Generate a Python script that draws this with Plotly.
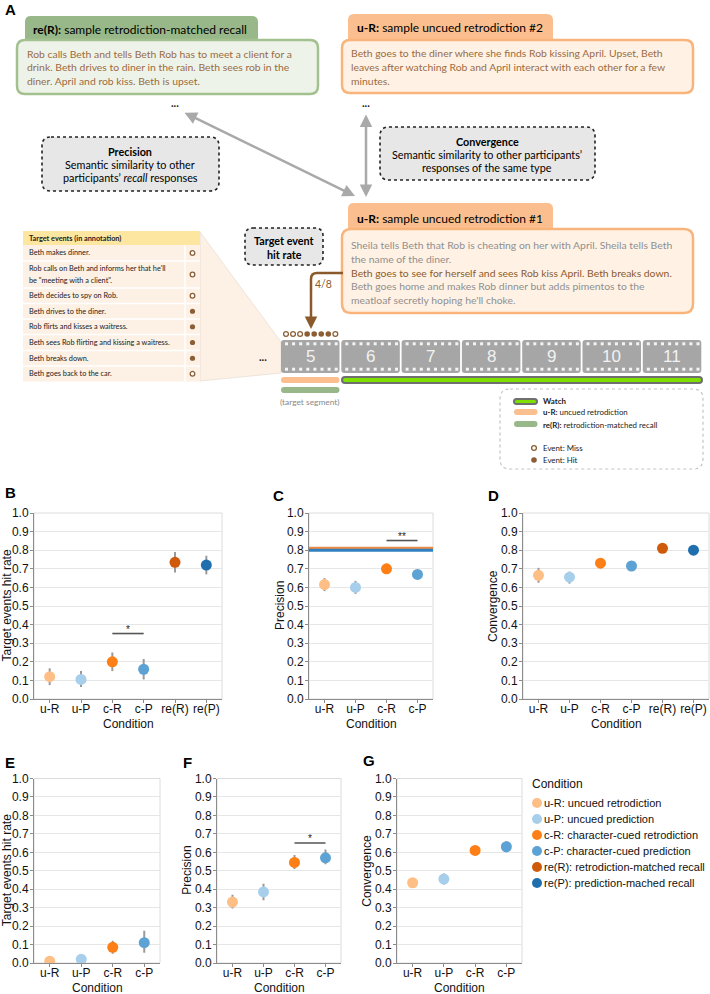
import plotly.graph_objects as go

W, H = 710, 994
FA = "Lato"              # diagram text (Calibri-like)
FC = "Liberation Sans"   # chart text (Helvetica-like)

# ------------------------------------------------------------------ data
conditions_all = ["u-R", "u-P", "c-R", "c-P", "re(R)", "re(P)"]
conditions_4 = ["u-R", "u-P", "c-R", "c-P"]
condition_labels = [
    "u-R: uncued retrodiction",
    "u-P: uncued prediction",
    "c-R: character-cued retrodiction",
    "c-P: character-cued prediction",
    "re(R): retrodiction-matched recall",
    "re(P): prediction-mached recall",
]
condition_colors = ["#fdbf86", "#a7cfeb", "#fd7f15", "#5da2d4", "#cf5a0c", "#1f6fae"]

# B: target events hit rate
b_mean = [0.12, 0.105, 0.20, 0.16, 0.735, 0.72]
b_lo = [0.075, 0.065, 0.15, 0.105, 0.68, 0.67]
b_hi = [0.165, 0.15, 0.25, 0.215, 0.79, 0.77]
# C: precision
c_mean = [0.615, 0.60, 0.70, 0.67]
c_lo = [0.58, 0.565, 0.675, 0.655]
c_hi = [0.65, 0.635, 0.725, 0.69]
c_recall_lines = [0.81, 0.80]   # re(R), re(P)
# D: convergence
d_mean = [0.665, 0.655, 0.73, 0.715, 0.81, 0.80]
d_lo = [0.625, 0.62, 0.71, 0.70, 0.80, 0.79]
d_hi = [0.705, 0.685, 0.75, 0.73, 0.82, 0.81]
# E: target events hit rate
e_mean = [0.01, 0.02, 0.085, 0.11]
e_lo = [0.0, 0.01, 0.05, 0.055]
e_hi = [0.02, 0.03, 0.12, 0.175]
# F: precision
f_mean = [0.33, 0.385, 0.545, 0.57]
f_lo = [0.295, 0.34, 0.51, 0.535]
f_hi = [0.37, 0.43, 0.585, 0.615]
# G: convergence
g_mean = [0.435, 0.455, 0.61, 0.63]
g_lo = [0.425, 0.425, 0.585, 0.60]
g_hi = [0.445, 0.485, 0.635, 0.66]

y_ticks = [round(i * 0.1, 1) for i in range(11)]

film_segments = [5, 6, 7, 8, 9, 10, 11]
target_events = [
    ["Beth makes dinner."],
    ["Rob calls on Beth and informs her that he'll", "be \"meeting with a client\"."],
    ["Beth decides to spy on Rob."],
    ["Beth drives to the diner."],
    ["Rob flirts and kisses a waitress."],
    ["Beth sees Rob flirting and kissing a waitress."],
    ["Beth breaks down."],
    ["Beth goes back to the car."],
]
target_event_hits = [0, 0, 0, 1, 1, 1, 1, 0]

recall_text = [
    "Rob calls Beth and tells Beth Rob has to meet a client for a",
    "drink. Beth drives to diner in the rain. Beth sees rob in the",
    "diner. April and rob kiss. Beth is upset.",
]
retro2_text = [
    "Beth goes to the diner where she finds Rob kissing April. Upset, Beth",
    "leaves after watching Rob and April interact with each other for a few",
    "minutes.",
]
retro1_text = [
    ("Sheila tells Beth that Rob is cheating on her with April. Sheila tells Beth", 0),
    ("the name of the diner.", 0),
    ("Beth goes to see for herself and sees Rob kiss April. Beth breaks down.", 1),
    ("Beth goes home and makes Rob dinner but adds pimentos to the", 0),
    ("meatloaf secretly hoping he'll choke.", 0),
]

# ------------------------------------------------------------------ helpers
fig = go.Figure()
shapes, annots = [], []


def X(v):
    return v / W


def Y(v):
    return 1 - v / H


def rpath(x0, y0, x1, y1, r, rb=None):
    rb = r if rb is None else rb
    p = [
        f"M{X(x0 + r):.5f},{Y(y0):.5f}",
        f"L{X(x1 - r):.5f},{Y(y0):.5f}",
        f"Q{X(x1):.5f},{Y(y0):.5f} {X(x1):.5f},{Y(y0 + r):.5f}",
        f"L{X(x1):.5f},{Y(y1 - rb):.5f}",
        f"Q{X(x1):.5f},{Y(y1):.5f} {X(x1 - rb):.5f},{Y(y1):.5f}",
        f"L{X(x0 + rb):.5f},{Y(y1):.5f}",
        f"Q{X(x0):.5f},{Y(y1):.5f} {X(x0):.5f},{Y(y1 - rb):.5f}",
        f"L{X(x0):.5f},{Y(y0 + r):.5f}",
        f"Q{X(x0):.5f},{Y(y0):.5f} {X(x0 + r):.5f},{Y(y0):.5f}",
        "Z",
    ]
    return " ".join(p)


def box(x0, y0, x1, y1, r, fill, line="rgba(0,0,0,0)", lw=0, dash="solid", rb=None):
    shapes.append(dict(type="path", xref="paper", yref="paper", path=rpath(x0, y0, x1, y1, r, rb),
                       fillcolor=fill, line=dict(color=line, width=lw, dash=dash), layer="above"))


def rect(x0, y0, x1, y1, fill, line="rgba(0,0,0,0)", lw=0):
    shapes.append(dict(type="rect", xref="paper", yref="paper", x0=X(x0), x1=X(x1), y0=Y(y1), y1=Y(y0),
                       fillcolor=fill, line=dict(color=line, width=lw), layer="above"))


def circle(cx, cy, r, fill, line="rgba(0,0,0,0)", lw=0):
    shapes.append(dict(type="circle", xref="paper", yref="paper", x0=X(cx - r), x1=X(cx + r),
                       y0=Y(cy + r), y1=Y(cy - r), fillcolor=fill, line=dict(color=line, width=lw),
                       layer="above"))


def txt(x, y, s, size=10, color="#000", xanchor="left", family=FA, angle=0):
    annots.append(dict(x=X(x), y=Y(y), xref="paper", yref="paper", text=s, showarrow=False,
                       xanchor=xanchor, yanchor="middle", borderpad=0, textangle=angle,
                       font=dict(size=size, color=color, family=family)))


def arrow(tx, ty, sx, sy, color, width, both=False, head=2):
    annots.append(dict(x=X(tx), y=Y(ty), xref="paper", yref="paper", ax=sx - tx, ay=sy - ty,
                       text="", showarrow=True, arrowhead=head, startarrowhead=head, arrowsize=1,
                       startarrowsize=1, arrowwidth=width, arrowcolor=color, standoff=0, startstandoff=0,
                       arrowside="end+start" if both else "end"))


BROWN_T = "#9a6b3f"
BROWN = "#8c5e35"
GRAY_T = "#8f8f8f"
ORANGE_TAB = "#fbbf8f"
ORANGE_BORDER = "#f9b47c"
ORANGE_FILL = "#fff2e5"
GREEN_TAB = "#98b889"
GREEN_BORDER = "#a3c18f"
GREEN_FILL = "#eef3ea"
BODY = 10.4

# ------------------------------------------------------------------ panel A
txt(4, 10, "<b>A</b>", 15, family=FC)

# re(R) sample
box(25, 16, 258, 44, 6, GREEN_TAB, rb=0)
txt(32, 29, "<b>re(R):</b> sample retrodiction-matched recall", 12)
box(17, 40, 318, 94, 8, GREEN_FILL, GREEN_BORDER, 2.5)
for i, s in enumerate(recall_text):
    txt(26, 54 + 13.5 * i, s, BODY, BROWN_T)
txt(175, 103, "<b>...</b>", 11, "#222", "center")

# u-R #2 sample
box(348, 14, 553, 44, 6, ORANGE_TAB, rb=0)
txt(356, 28, "<b>u-R:</b> sample uncued retrodiction #2", 12)
box(342, 40, 693, 93, 8, ORANGE_FILL, ORANGE_BORDER, 2.5)
for i, s in enumerate(retro2_text):
    txt(350, 53 + 14 * i, s, BODY, BROWN_T)
txt(366, 103, "<b>...</b>", 11, "#222", "center")

# arrows
arrow(355, 196, 183, 112, "#a9a9a9", 2.5, both=True)
arrow(366, 197, 366, 113, "#a9a9a9", 2.5, both=True)

# Precision box
box(42, 137, 219, 191, 9, "#e7e7e7", "#222", 1.6, "dot")
txt(130, 151, "<b>Precision</b>", 10.8, "#000", "center")
txt(130, 164.5, "Semantic similarity to other", 10.8, "#000", "center")
txt(130, 178, "participants\u2019 <i>recall</i> responses", 10.8, "#000", "center")

# Convergence box
box(380, 127, 595, 180, 9, "#e7e7e7", "#222", 1.6, "dot")
txt(487, 142, "<b>Convergence</b>", 10.8, "#000", "center")
txt(487, 155, "Semantic similarity to other participants\u2019", 10.8, "#000", "center")
txt(487, 167.5, "responses of the same type", 10.8, "#000", "center")

# u-R #1 sample
box(348, 203, 553, 234, 6, ORANGE_TAB, rb=0)
txt(356, 218, "<b>u-R:</b> sample uncued retrodiction #1", 12)
box(342, 229, 693, 313, 9, ORANGE_FILL, ORANGE_BORDER, 2.5)
for i, (s, hl) in enumerate(retro1_text):
    txt(350, 245 + 13.8 * i, s, BODY, "#8b5a2b" if hl else GRAY_T)

# Target event hit rate box
box(245, 228, 323, 265, 8, "#e7e7e7", "#222", 1.6, "dot")
txt(284, 240.5, "<b>Target event</b>", 10.8, "#000", "center")
txt(284, 254, "<b>hit rate</b>", 10.8, "#000", "center")

# peach trapezoid linking table to segment 5
shapes.append(dict(type="path", xref="paper", yref="paper", layer="above",
                   path=f"M{X(200)},{Y(232)} L{X(281)},{Y(342)} L{X(281)},{Y(373)} L{X(200)},{Y(381)} Z",
                   fillcolor="#fdf1e6", line=dict(color="#e9e0d6", width=0.8)))

# target events table
TF = 7.3
rect(23, 231, 200, 245, "#fde6a0")
txt(28, 238, "<b>Target events (in annotation)</b>", TF, "#222")
row_edges = [245, 261, 288, 303.5, 319, 334.5, 350.5, 366, 381.5]
rect(23, 245, 200, 381.5, "#fdf0e4")
for k, lines in enumerate(target_events):
    y0, y1 = row_edges[k], row_edges[k + 1]
    yc = (y0 + y1) / 2
    if len(lines) == 1:
        txt(28, yc, lines[0], TF, "#222")
    else:
        txt(28, yc - 6, lines[0], TF, "#222")
        txt(28, yc + 6, lines[1], TF, "#222")
    if target_event_hits[k]:
        circle(192.5, yc, 2.6, BROWN)
    else:
        circle(192.5, yc, 2.3, "#ffffff", BROWN, 1.3)
for e in row_edges[1:-1]:
    shapes.append(dict(type="line", xref="paper", yref="paper", x0=X(23), x1=X(200), y0=Y(e), y1=Y(e),
                       line=dict(color="#ffffff", width=1.5), layer="above"))
shapes.append(dict(type="line", xref="paper", yref="paper", x0=X(185), x1=X(185), y0=Y(245), y1=Y(381.5),
                   line=dict(color="#ffffff", width=1.5), layer="above"))

txt(263, 357, "<b>...</b>", 11, "#222", "center")

# film strip
cell_w, cell_step = 58.5, 60.3
for i, seg in enumerate(film_segments):
    cx0 = 281 + i * cell_step
    box(cx0, 340, cx0 + cell_w, 373, 3, "#a6a6a6")
    for j in range(8):
        hx = cx0 + 4 + j * 7.1
        rect(hx, 342.3, hx + 3, 345.3, "#f4f4f4")
        rect(hx, 367.7, hx + 3, 370.7, "#f4f4f4")
    txt(cx0 + cell_w / 2, 357, str(seg), 17, "#f2f2f2", "center", FC)

# event dots above segment 5
for j, hit in enumerate(target_event_hits):
    cx = 286 + j * 7.05
    if hit:
        circle(cx, 334, 2.8, BROWN)
    else:
        circle(cx, 334, 2.4, "#ffffff", BROWN, 1.3)

# connector (brown) from highlighted sentence to dots
shapes.append(dict(type="path", xref="paper", yref="paper", layer="above",
                   path=f"M{X(343)},{Y(273)} L{X(317)},{Y(273)} Q{X(311)},{Y(273)} {X(311)},{Y(279)} L{X(311)},{Y(290)}",
                   line=dict(color="#8b5a2b", width=2.5)))
arrow(311, 329, 311, 288, "#8b5a2b", 2.5)
txt(323, 284, "4/8", 10.5, "#8b5a2b", "center")

# segment bars
box(281, 377, 339.5, 383, 3, ORANGE_TAB)
box(281, 387, 339.5, 393, 3, GREEN_TAB)
box(341, 376, 703, 384, 4, "#6f6f6f")
box(343, 378, 701, 382, 2, "#7fe000")
txt(310, 402, "(target segment)", 8.4, "#8a8a8a", "center")

# panel A legend
LF = 7.9
box(500, 389, 703, 469, 10, "rgba(0,0,0,0)", "#c4c4c4", 1.2, "dot")
box(513, 398, 538, 405, 3.5, "#6f6f6f")
box(515, 400, 536, 403, 1.5, "#7fe000")
txt(542, 401.5, "<b>Watch</b>", LF, "#222")
box(514, 409, 537.5, 415, 3, ORANGE_TAB)
txt(542, 412.5, "<b>u-R:</b> uncued retrodiction", LF, "#222")
box(514, 421, 537.5, 427, 3, GREEN_TAB)
txt(542, 424.5, "<b>re(R):</b> retrodiction-matched recall", LF, "#222")
circle(534, 448, 2.4, "#ffffff", BROWN, 1.3)
txt(542, 448, "Event: Miss", LF, "#222")
circle(534, 460, 2.8, BROWN)
txt(542, 460, "Event: Hit", LF, "#222")

# ------------------------------------------------------------------ panels B-G
panels = [
    # axis id, label, label pos, categories, mean, lo, hi, x-domain(px), y-domain(px), y title, y-title x, x-title y
    ("", "B", (4, 492), conditions_all, b_mean, b_lo, b_hi, (34, 222), (513, 699), "Target events hit rate", 6.5, 724),
    ("2", "C", (272, 496), conditions_4, c_mean, c_lo, c_hi, (309, 433), (513, 699), "Precision", 280, 724),
    ("3", "D", (487, 496), conditions_all, d_mean, d_lo, d_hi, (523, 709), (513, 699), "Convergence", 493, 724),
    ("4", "E", (4, 762), conditions_4, e_mean, e_lo, e_hi, (34, 160), (778.5, 963), "Target events hit rate", 6.5, 988),
    ("5", "F", (182, 762), conditions_4, f_mean, f_lo, f_hi, (217, 341), (778.5, 963), "Precision", 187, 988),
    ("6", "G", (362, 760), conditions_4, g_mean, g_lo, g_hi, (397, 522), (778.5, 963), "Convergence", 367, 988),
]
significance = {"": (2, 3, 0.352, "*"), "2": (2, 3, 0.852, "**"), "5": (2, 3, 0.65, "*")}

layout_axes = {}
for aid, lab, lpos, cats, mean, lo, hi, xd, yd, ytitle, ytx, xty in panels:
    xa, ya = "x" + aid, "y" + aid
    for i, cat in enumerate(cats):
        fig.add_trace(go.Scatter(
            x=[cat], y=[mean[i]], mode="markers", xaxis=xa, yaxis=ya, showlegend=False,
            name=condition_labels[i], hoverinfo="skip",
            marker=dict(size=11, color=condition_colors[i], line=dict(width=0)),
            error_y=dict(type="data", symmetric=False, array=[hi[i] - mean[i]],
                         arrayminus=[mean[i] - lo[i]], color="#9a9a9a", thickness=2, width=0),
        ))
    layout_axes["xaxis" + aid] = dict(
        domain=[X(xd[0]), X(xd[1])], anchor=ya, type="category", categoryorder="array",
        categoryarray=cats, range=[-0.5, len(cats) - 0.5], showgrid=False, zeroline=False,
        showline=True, linecolor="#8c8c8c", linewidth=1, ticks="outside", ticklen=3, tickcolor="#8c8c8c",
        ticklabelstandoff=-4,
        tickfont=dict(family=FC, size=12, color="#111"), automargin=False,
    )
    layout_axes["yaxis" + aid] = dict(
        domain=[Y(yd[1]), Y(yd[0])], anchor=xa, range=[0, 1], tickvals=y_ticks, tickformat=".1f",
        showgrid=True, gridcolor="#e6e6e6", gridwidth=1, zeroline=False, showline=True,
        linecolor="#8c8c8c", linewidth=1, ticks="outside", ticklen=3, tickcolor="#8c8c8c",
        ticklabelstandoff=-1,
        tickfont=dict(family=FC, size=12, color="#111"), automargin=False,
    )
    # axis titles
    txt(ytx, (yd[0] + yd[1]) / 2, ytitle, 12, "#111", "center", FC, angle=-90)
    txt((xd[0] + xd[1]) / 2, xty, "Condition", 12, "#111", "center", FC)
    # light view border
    shapes.append(dict(type="rect", xref=xa + " domain", yref=ya + " domain", x0=0, x1=1, y0=0, y1=1,
                       line=dict(color="#dcdcdc", width=1), layer="below"))
    txt(lpos[0], lpos[1], f"<b>{lab}</b>", 15, "#000", "left", FC)
    if aid in significance:
        s0, s1, sy, stext = significance[aid]
        shapes.append(dict(type="line", xref=xa, yref=ya, x0=s0, x1=s1, y0=sy, y1=sy,
                           line=dict(color="#555", width=1.6), layer="above"))
        annots.append(dict(x=(s0 + s1) / 2, y=sy, xref=xa, yref=ya, text=stext, showarrow=False,
                           yanchor="bottom", yshift=-3, font=dict(family=FC, size=10, color="#222")))

# precision reference lines from recall (panel C)
for v, col in zip(c_recall_lines, ["#ee8a43", "#2f80c0"]):
    shapes.append(dict(type="line", xref="x2 domain", yref="y2", x0=0, x1=1, y0=v, y1=v,
                       line=dict(color=col, width=3), layer="above"))

# condition legend (bottom right)
txt(531, 784, "Condition", 12, "#111", "left", FC)
for k, (lab, col) in enumerate(zip(condition_labels, condition_colors)):
    yy = 803 + 16 * k
    circle(537, yy, 5, col)
    txt(543, yy, lab, 11, "#111", "left", FC)

fig.update_layout(
    width=W, height=H, margin=dict(l=0, r=0, t=0, b=0, pad=0, autoexpand=False),
    paper_bgcolor="#ffffff", plot_bgcolor="rgba(0,0,0,0)",
    showlegend=False, shapes=shapes, annotations=annots,
    font=dict(family=FC, size=12, color="#111"),
    **layout_axes,
)

fig.write_html("out.html", config={"displayModeBar": False},
               post_script="document.body.style.margin='0';document.body.style.overflow='hidden';")
